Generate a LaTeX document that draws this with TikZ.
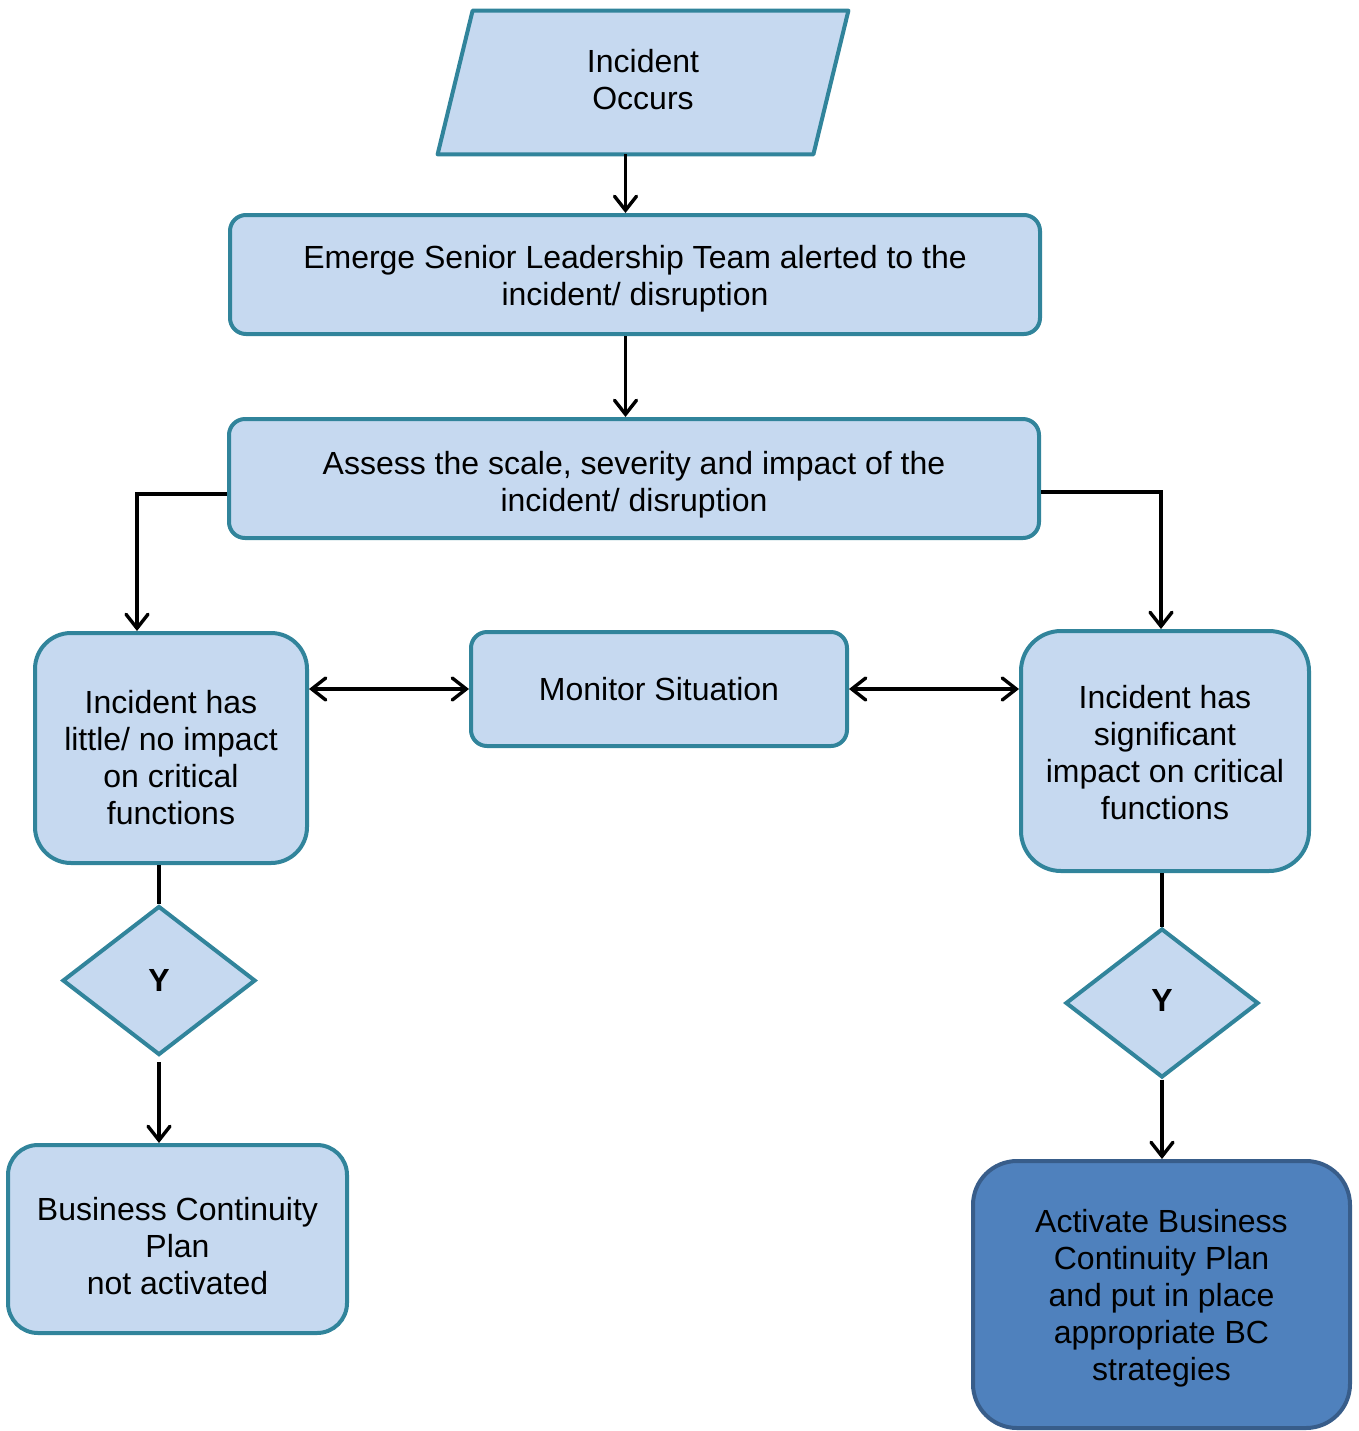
\documentclass[tikz,border=0pt]{standalone}
\usepackage{fontspec}
\setmainfont{Liberation Sans}
\usetikzlibrary{arrows.meta,shapes.geometric,backgrounds}
\definecolor{bcfill}{HTML}{C6D9F0}
\definecolor{bcedge}{HTML}{31849B}
\definecolor{bcdark}{HTML}{4F81BD}
\definecolor{bcdarkedge}{HTML}{385D8A}
% taller first line, pushes a box's text down by half of #1
\newcommand{\lowerby}[1]{\rule{0pt}{\dimexpr11.6pt+#1\relax}}

\begin{document}
\begin{tikzpicture}[
  x=0.5pt, y=-0.5pt,
  box/.style   = {draw=bcedge, fill=bcfill, rounded corners=#1,
                  align=center, inner sep=0pt, line width=2pt,
                  font=\fontsize{16}{18.5}\selectfont},
  box/.default = 8pt,
  dbox/.style  = {box=#1, draw=bcdarkedge, fill=bcdark},
  para/.style  = {draw=bcedge, fill=bcfill, line width=2pt, line join=round},
  decide/.style = {diamond, draw=bcedge, fill=bcfill, line width=2pt,
                  inner sep=0pt, minimum width=96.5pt, minimum height=74.5pt,
                  font=\fontsize{16}{18.5}\selectfont\bfseries},
  arr/.style   = {-{Straight Barb[length=7pt,width=11pt,line cap=round]},
                  line width=1.7pt, draw=black},
  darr/.style  = {{Straight Barb[length=7pt,width=11pt,line cap=round]}-{Straight Barb[length=7pt,width=11pt,line cap=round]},
                  line width=1.7pt, draw=black},
  link/.style  = {line width=1.7pt, draw=black},
]
\useasboundingbox (0,0) rectangle (1359,1431);
\node[align=center, inner sep=0pt, minimum width=187.5pt, minimum height=71.5pt,
      font=\fontsize{16}{18.5}\selectfont] (occ)
    at (643,80) {Incident\\Occurs};
\begin{scope}[on background layer]
  \draw[para] ([xshift=-8.75pt,yshift=-1.25pt]occ.south west) -- ([xshift=-8.75pt,yshift=-1.25pt]occ.south east)
    -- ([xshift=8.75pt,yshift=-1.25pt]occ.north east) -- ([xshift=8.75pt,yshift=-1.25pt]occ.north west) -- cycle;
\end{scope}
\node[box, minimum width=405pt, minimum height=59.5pt] (alert)
    at (635,274.5) {\lowerby{4pt}Emerge Senior Leadership Team alerted to the\\incident/ disruption};
\node[box, minimum width=405pt, minimum height=59.5pt] (assess)
    at (634,478.5) {\lowerby{6.5pt}Assess the scale, severity and impact of the\\incident/ disruption};
\node[box=18pt, minimum width=136pt, minimum height=115pt] (little)
    at (171,748) {\lowerby{9.5pt}Incident has\\little/ no impact\\on critical\\functions};
\node[box, minimum width=188pt, minimum height=57pt] (monitor)
    at (659,689) {Monitor Situation};
\node[box=20pt, minimum width=144pt, minimum height=120pt] (signif)
    at (1165,751) {\lowerby{1.5pt}Incident has\\significant\\impact on critical\\functions};
\node[decide] (yleft)  at (159,980.5) {Y};
\node[decide] (yright) at (1162,1003) {\raisebox{3pt}{Y}};
\node[box=15pt, minimum width=169.5pt, minimum height=94pt] (notact)
    at (177.5,1239) {\lowerby{7pt}Business Continuity\\Plan\\not activated};
\node[dbox=22pt, minimum width=188.5pt, minimum height=133.5pt] (activ)
    at (1161.5,1294.5) {\lowerby{3.5pt}Activate Business\\Continuity Plan\\and put in place\\appropriate BC\\strategies};
% main flow
\draw[arr] ([xshift=-8.75pt,yshift=-1.25pt]occ.south) -- ([xshift=-8.75pt]occ.south |- alert.north);
\draw[arr] ([xshift=-8.75pt]alert.south -| occ.south) -- ([xshift=-8.75pt]assess.north -| occ.south);
\draw[arr] ([yshift=-7.75pt]assess.west) -| ([xshift=-17pt]little.north);
\draw[arr] ([yshift=-6.75pt]assess.east) -| ([xshift=-2pt]signif.north);
% monitoring
\draw[darr] (little.east |- monitor.west) -- (monitor.west);
\draw[darr] (monitor.east) -- (monitor.east -| signif.west);
% decisions
\draw[link] (little.south -| yleft) -- (yleft.north);
\draw[arr] ([yshift=-2.5pt]yleft.south) -- (yleft.south |- notact.north);
\draw[link] (signif.south -| yright) -- (yright.north);
\draw[arr] (yright.south) -- (yright.south |- activ.north);
\end{tikzpicture}
\end{document}
